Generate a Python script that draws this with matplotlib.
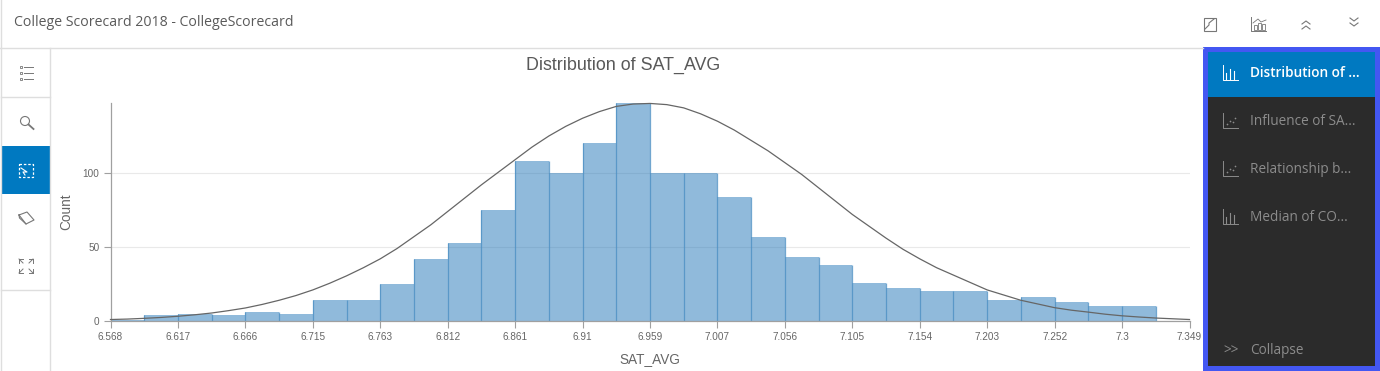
import matplotlib
matplotlib.use('Agg')
import matplotlib.pyplot as plt
from matplotlib.patches import Rectangle, Circle
import numpy as np

W, H = 1380, 371

tick_labels = ['6.568', '6.617', '6.666', '6.715', '6.763', '6.812', '6.861', '6.91', '6.959',
               '7.007', '7.056', '7.105', '7.154', '7.203', '7.252', '7.3', '7.349']
counts = [1, 4, 5, 4, 6, 5, 14, 14, 25, 42, 53, 75, 108, 100, 120, 147,
          100, 100, 84, 57, 43, 38, 26, 22, 20, 20, 14, 16, 13, 10, 10, 0]
# curve height read every half bin
curve = [1, 1.3, 1.8, 2.4, 3.2, 4.2, 5.4, 7, 8.8, 11.2, 14, 17.2, 21, 25.5, 30.5, 36, 42,
         49, 57, 65, 74, 83, 92, 100.5, 109, 117.5, 125, 131.5, 137, 141.5, 145, 146.6, 147,
         146.2, 144, 140, 135, 129, 122, 115, 107, 99, 90, 81, 72, 64, 56, 48.5, 42,
         36, 31, 26, 21, 17.5, 14, 11.5, 9, 7.3, 6, 4.6, 3.5, 2.7, 2, 1.5, 1]
y_ticks = [0, 50, 100]
menu_items = ['Distribution of ...', 'Influence of SA...', 'Relationship b...', 'Median of CO...']

edges = np.linspace(6.568, 7.349, len(counts) + 1)
curve_x = np.linspace(6.568, 7.349, len(curve))

plt.rcParams['font.family'] = ['Liberation Sans', 'DejaVu Sans']
fig = plt.figure(figsize=(W / 100, H / 100), dpi=100, facecolor='white')

# page chrome, in pixels
ui = fig.add_axes([0, 0, 1, 1])
ui.set_xlim(0, W)
ui.set_ylim(H, 0)
ui.axis('off')

line_col = '#dedede'
ui.plot([0, 1203], [48, 48], color=line_col, lw=1)
ui.plot([0.7, 0.7], [0, H], color=line_col, lw=1)
ui.plot([49.8, 49.8], [48, H], color=line_col, lw=1)
for y in [97, 290]:
    ui.plot([1, 50], [y, y], color=line_col, lw=1)
ui.add_patch(Rectangle((1.5, 146), 48, 48, color='#0079c1', lw=0))
ui.text(14, 23, 'College Scorecard 2018 - CollegeScorecard', family='Open Sans',
        fontsize=10.2, color='#5a5a5a', va='center')

# left rail icons
icon = '#777777'
for y in [67, 73, 79]:
    ui.plot([24, 33], [y, y], color=icon, lw=0.7)
    ui.add_patch(Rectangle((19.5, y - 1), 2, 2, fill=False, ec=icon, lw=0.6))
ui.add_patch(Circle((25, 121), 4.5, fill=False, ec=icon, lw=0.8))
ui.plot([28.5, 33.5], [124.5, 129], color=icon, lw=1.3)
ui.add_patch(Rectangle((19, 164), 14, 13, fill=False, ec='white', lw=0.9, ls=(0, (2, 1.5))))
ui.plot([21, 27, 23, 25], [168, 172, 172, 175], color='white', lw=0.8)
ui.plot([19, 27, 34, 26, 19], [215, 212, 220, 224, 215], color=icon, lw=0.8)
ui.plot([19, 19.5, 26], [215, 218, 224], color=icon, lw=0.8)
for sx, sy in [(-1, -1), (1, -1), (-1, 1), (1, 1)]:
    cx, cy = 26 + sx * 7, 266 + sy * 7
    ui.plot([cx, cx - sx * 4], [cy, cy], color=icon, lw=0.7)
    ui.plot([cx, cx], [cy, cy - sy * 4], color=icon, lw=0.7)
    ui.plot([cx, cx - sx * 4], [cy, cy - sy * 4], color=icon, lw=0.7)

# top right icons
ui.add_patch(Rectangle((1203.5, 18), 12, 12.5, fill=False, ec=icon, lw=0.8))
ui.plot([1205, 1209, 1209, 1214], [29, 25, 23, 19], color=icon, lw=0.8)
ui.plot([1251, 1251, 1266], [17, 31, 31], color=icon, lw=0.7)
for x, h in [(1254, 5), (1258, 7), (1262, 6)]:
    ui.add_patch(Rectangle((x, 30 - h), 2.5, h, fill=False, ec=icon, lw=0.6))
ui.plot([1253, 1258, 1261, 1266], [23, 19, 22, 20], color=icon, lw=0.6)
for y in [21, 26]:
    ui.plot([1302, 1306, 1310], [y + 3, y, y + 3], color=icon, lw=0.8)
for y in [18, 23]:
    ui.plot([1350, 1354, 1358], [y, y + 3, y], color=icon, lw=0.8)

# side panel
ui.add_patch(Rectangle((1203, 47), 177, 324, color='#4357f2', lw=0))
ui.add_patch(Rectangle((1208, 52), 167, 314, color='#2b2b2b', lw=0))
ui.add_patch(Rectangle((1208, 52), 167, 45, color='#0079c1', lw=0))
for i, label in enumerate(menu_items):
    y = 73 + i * 48
    col = 'white' if i == 0 else '#8c8c8c'
    ui.text(1250, y if i == 0 else y + 0.5, label, family='Open Sans', fontsize=9.8, color=col, va='center',
            fontweight='semibold' if i == 0 else 'normal')
    ui.plot([1223, 1223, 1238], [y - 8, y + 7, y + 7], color=col, lw=0.7)
    if i in (1, 2):
        ui.scatter([1227, 1230, 1233, 1235], [y + 3, y, y + 1, y - 3], s=1.5, color=col, lw=0)
    else:
        for x, h in [(1226, 6), (1230, 10), (1234, 8)]:
            ui.plot([x, x], [y + 6, y + 6 - h], color=col, lw=0.8)
ui.text(1223, 351.5, '>>', family='Open Sans', fontsize=9.8, color='#8c8c8c', va='center')
ui.text(1250, 351, 'Collapse', family='Open Sans', fontsize=9.8, color='#8c8c8c', va='center')

# the chart
ax = fig.add_axes([110.5 / W, 1 - 321 / H, 1079 / W, 218 / H])
ax.patch.set_alpha(0)
ax.bar(edges[:-1], counts, width=np.diff(edges), align='edge', color='#2277b8', alpha=0.5, lw=0)
ax.vlines(edges[1:-1], 0, np.maximum(counts[:-1], counts[1:]), color='#4d90c4', lw=0.9, alpha=0.8)
ax.plot(curve_x, curve, color='#666666', lw=0.9, zorder=4, clip_on=False)
ax.set_xlim(edges[0], edges[-1])
ax.set_ylim(0, 147.3)
ax.set_xticks(edges[::2])
ax.set_xticklabels(tick_labels)
ax.set_yticks(y_ticks)
ax.grid(axis='y', color='#e9e9e9', lw=0.8)
ax.set_axisbelow(True)
ax.tick_params(length=5, width=0.8, color='#a0a0a0', labelsize=7.2, labelcolor='#666666', pad=3)
for s in ['top', 'right']:
    ax.spines[s].set_visible(False)
for s in ['left', 'bottom']:
    ax.spines[s].set_color('#a0a0a0')
    ax.spines[s].set_linewidth(0.9)
ax.set_xlabel('SAT_AVG', fontsize=9.8, color='#666666', labelpad=7)
ax.set_ylabel('Count', fontsize=9.8, color='#666666', labelpad=6.5)

fig.text(623.5 / W, 1 - 65.5 / H, 'Distribution of SAT_AVG', fontsize=12.9, color='#595959',
         ha='center', va='center')

fig.savefig('out.png', dpi=100)
